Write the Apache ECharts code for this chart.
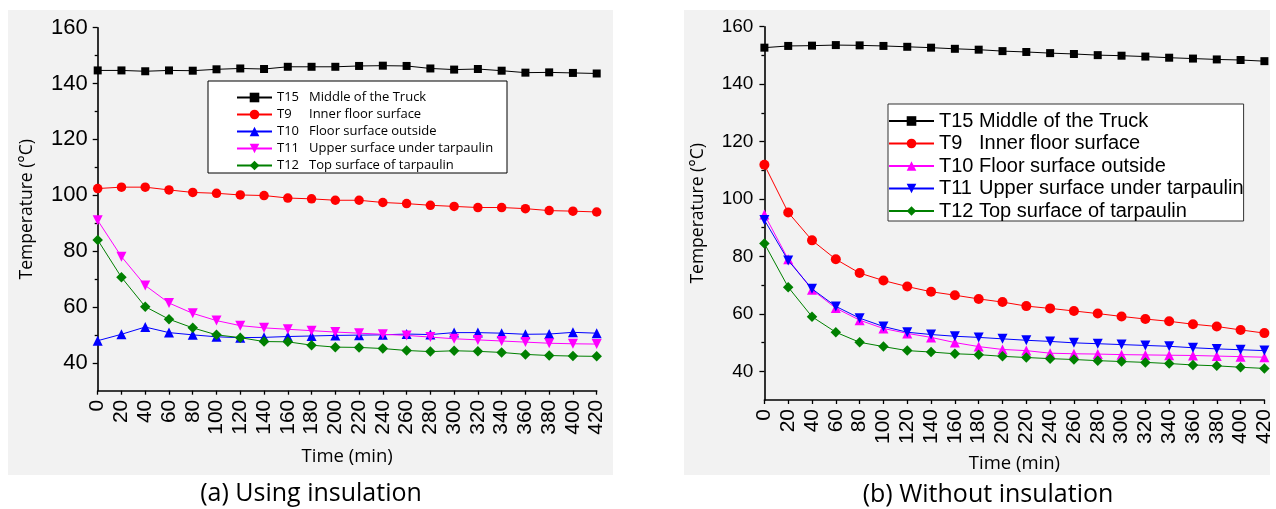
<!DOCTYPE html>
<html>
<head>
<meta charset="utf-8">
<script src="https://cdn.jsdelivr.net/npm/echarts@6/dist/echarts.min.js"></script>
<style>
html,body{margin:0;padding:0;background:#fff;}
#chart{width:1276px;height:509px;}
</style>
</head>
<body>
<div id="chart"></div>
<script>
const times = [0,20,40,60,80,100,120,140,160,180,200,220,240,260,280,300,320,340,360,380,400,420];
const yMajor = [40,60,80,100,120,140,160];
const yMinor = [50,70,90,110,130,150];
const codes = ['T15','T9','T10','T11','T12'];
const descs = ['Middle of the Truck','Inner floor surface','Floor surface outside','Upper surface under tarpaulin','Top surface of tarpaulin'];

// (a) Using insulation
const aT15 = [144.7,144.7,144.4,144.7,144.6,145.1,145.4,145.2,146.0,146.0,146.0,146.3,146.4,146.3,145.4,145.0,145.2,144.6,143.9,144.0,143.8,143.6];
const aT9  = [102.4,102.9,102.9,101.9,101.0,100.7,100.1,99.9,99.0,98.7,98.2,98.2,97.4,97.0,96.4,96.0,95.6,95.6,95.2,94.5,94.3,94.0];
const aT10 = [47.9,50.2,52.8,50.8,50.0,49.3,49.0,49.1,49.4,49.6,49.8,49.9,50.0,50.3,50.1,50.8,50.8,50.6,50.2,50.3,50.9,50.6];
const aT11 = [91.0,78.0,67.7,61.4,57.7,55.1,53.3,52.5,52.0,51.5,51.0,50.6,50.2,49.8,49.2,48.6,48.2,47.8,47.4,47.0,46.8,46.7];
const aT12 = [84.0,70.6,60.1,55.6,52.5,50.0,49.0,47.6,47.5,46.3,45.6,45.5,45.1,44.4,44.0,44.3,44.1,43.7,43.0,42.6,42.4,42.3];

// (b) Without insulation
const bT15 = [152.7,153.3,153.4,153.6,153.5,153.3,153.0,152.7,152.3,152.0,151.5,151.2,150.8,150.5,150.1,149.9,149.6,149.2,148.9,148.6,148.4,148.0];
const bT9  = [111.9,95.3,85.6,79.0,74.2,71.6,69.5,67.7,66.5,65.2,64.1,62.7,61.9,61.0,60.1,59.1,58.2,57.4,56.4,55.6,54.4,53.3];
const bT10 = [94.6,79.0,68.4,62.0,57.8,54.9,53.2,51.8,50.0,48.6,47.6,47.2,46.3,46.1,46.0,45.8,45.7,45.6,45.5,45.3,45.1,44.9];
const bT11 = [92.7,78.6,68.7,62.6,58.5,55.6,53.6,52.8,52.2,51.8,51.3,50.8,50.4,49.9,49.6,49.3,49.0,48.7,48.2,47.8,47.5,47.2];
const bT12 = [84.5,69.3,59.0,53.6,50.1,48.6,47.2,46.7,46.1,45.8,45.2,44.8,44.4,44.1,43.7,43.4,43.1,42.7,42.2,41.9,41.4,41.0];

const aSeries = [aT15,aT9,aT10,aT11,aT12];
const bSeries = [bT15,bT9,bT10,bT11,bT12];
const aStyle = [
  {color:'#000000', symbol:'rect', size:8, rot:0},
  {color:'#ff0000', symbol:'circle', size:9.5, rot:0},
  {color:'#0000ff', symbol:'triangle', size:10, rot:0},
  {color:'#ff00ff', symbol:'triangle', size:10, rot:180},
  {color:'#008000', symbol:'diamond', size:10.5, rot:0}
];
const bStyle = [
  {color:'#000000', symbol:'rect', size:8, rot:0},
  {color:'#ff0000', symbol:'circle', size:10, rot:0},
  {color:'#ff00ff', symbol:'triangle', size:10, rot:0},
  {color:'#0000ff', symbol:'triangle', size:10, rot:180},
  {color:'#008000', symbol:'diamond', size:10.5, rot:0}
];

const arial = '"Liberation Sans", Arial, sans-serif';
const cal = '"Open Sans", "Noto Sans", sans-serif';

function mkSeries(prefix, vals, styles, idx) {
  return vals.map((v, i) => ({
    name: prefix + i,
    type: 'line',
    xAxisIndex: idx,
    yAxisIndex: idx * 2,
    data: times.map((t, k) => [t, v[k]]),
    symbol: styles[i].symbol,
    symbolSize: styles[i].size,
    symbolRotate: styles[i].rot,
    clip: false,
    lineStyle: {color: styles[i].color, width: 1},
    itemStyle: {color: styles[i].color, borderWidth: 0},
    animation: false,
    z: 3 + i
  }));
}

function mkX(idx, gap) {
  return {
    gridIndex: idx, type: 'value', min: 0, max: 420, interval: 20,
    axisLine: {show: true, onZero: false, lineStyle: {color: '#000', width: 1.6}},
    axisTick: {show: true, length: 4, lineStyle: {color: '#000', width: 1.3}},
    axisLabel: {rotate: 90, fontSize: 21, fontFamily: arial, color: '#000', margin: 9},
    splitLine: {show: false},
    name: 'Time (min)', nameLocation: 'middle', nameGap: gap,
    nameTextStyle: {fontFamily: cal, fontSize: 18.5, color: '#000'}
  };
}

function mkY(idx, fs, gap, margin) {
  return [{
    gridIndex: idx, type: 'value', min: 30, max: 160, interval: 10, position: 'left',
    axisLine: {show: true, onZero: false, lineStyle: {color: '#000', width: 1.6}},
    axisTick: {show: true, length: 5, customValues: yMajor, lineStyle: {color: '#000', width: 1.3}},
    axisLabel: {customValues: yMajor, fontSize: fs, fontFamily: arial, color: '#000', margin: margin},
    splitLine: {show: false},
    name: 'Temperature (°C)', nameLocation: 'middle', nameGap: gap,
    nameTextStyle: {fontFamily: cal, fontSize: 17.5, color: '#000'}
  }, {
    gridIndex: idx, type: 'value', min: 30, max: 160, interval: 10, position: 'left', offset: 0,
    axisLine: {show: false},
    axisTick: {show: true, length: 3, customValues: yMinor, lineStyle: {color: '#000', width: 1.3}},
    axisLabel: {show: false},
    splitLine: {show: false}
  }];
}

function legendFmt(name) {
  const i = +name.slice(1);
  return '{c|' + codes[i] + '}{d|' + descs[i] + '}';
}

const option = {
  backgroundColor: '#ffffff',
  animation: false,
  graphic: [
    {type: 'rect', z: -10, shape: {x: 8, y: 10, width: 605, height: 465}, style: {fill: '#f2f2f2'}},
    {type: 'rect', z: -10, shape: {x: 684, y: 10, width: 586, height: 465}, style: {fill: '#f2f2f2'}},
    {type: 'text', z: 10, style: {x: 311, y: 494, text: '(a) Using insulation', textAlign: 'center', textVerticalAlign: 'middle', font: '25px "Open Sans", sans-serif', fill: '#000'}},
    {type: 'text', z: 10, style: {x: 988, y: 495, text: '(b) Without insulation', textAlign: 'center', textVerticalAlign: 'middle', font: '25px "Open Sans", sans-serif', fill: '#000'}}
  ],
  grid: [
    {left: 97.7, top: 27.7, width: 499, height: 363},
    {left: 764.4, top: 26.7, width: 500, height: 373.3}
  ],
  xAxis: [mkX(0, 57), mkX(1, 54)],
  yAxis: [...mkY(0, 22, 62, 10), ...mkY(1, 19, 57, 11)],
  legend: [
    {
      data: codes.map((c, i) => 'a' + i), formatter: legendFmt,
      orient: 'vertical', left: 208, top: 81,
      padding: [10, 10, 1, 28], itemGap: 4, itemWidth: 35, itemHeight: 12,
      borderColor: '#000', borderWidth: 1, backgroundColor: '#ffffff',
      textStyle: {
        rich: {
          c: {width: 32, fontFamily: cal, fontSize: 13, lineHeight: 16, color: '#000'},
          d: {width: 188, fontFamily: cal, fontSize: 13, lineHeight: 16, color: '#000'}
        }
      }
    },
    {
      data: codes.map((c, i) => 'b' + i), formatter: legendFmt,
      orient: 'vertical', left: 888, top: 104,
      padding: [7, 0, 0, 0], itemGap: 2.5, itemWidth: 45, itemHeight: 12,
      borderColor: '#333', borderWidth: 1, backgroundColor: '#ffffff',
      textStyle: {
        rich: {
          c: {width: 40, fontFamily: arial, fontSize: 20, lineHeight: 22, color: '#000'},
          d: {width: 261, fontFamily: arial, fontSize: 20, lineHeight: 22, color: '#000'}
        }
      }
    }
  ],
  series: [...mkSeries('a', aSeries, aStyle, 0), ...mkSeries('b', bSeries, bStyle, 1)]
};

const chart = echarts.init(document.getElementById('chart'), null, {renderer: 'canvas'});
chart.setOption(option);
</script>
</body>
</html>
